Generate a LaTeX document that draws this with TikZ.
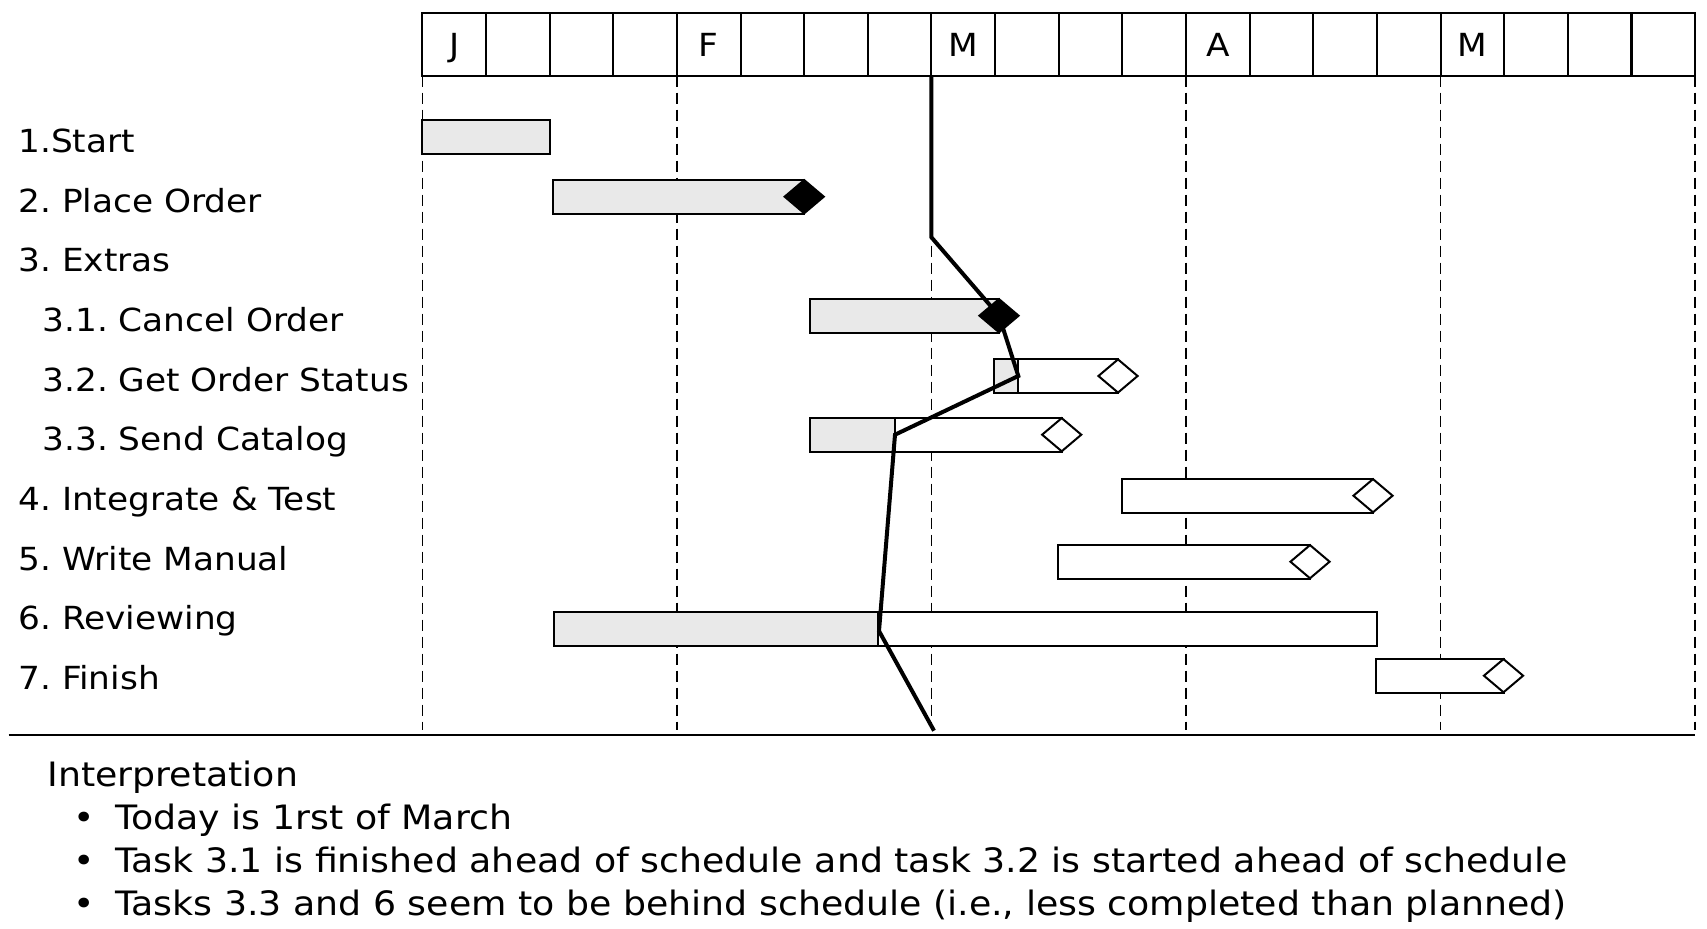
\documentclass[tikz,border=0pt]{standalone}
\usepackage{fontspec}
\setmainfont{DejaVu Sans}[FakeStretch=1.08]
\usetikzlibrary{shapes.geometric}
\definecolor{bargrey}{HTML}{E9E9E9}
\frenchspacing

\begin{document}
\begin{tikzpicture}[x=0.5pt,y=-0.5pt,
	task/.style={anchor=base west,inner sep=0pt,font=\fontsize{15.9}{19}\selectfont},
	note/.style={anchor=base west,inner sep=0pt,font=\fontsize{16.8}{20}\selectfont},
	month/.style={anchor=base,inner sep=0pt,font=\fontsize{15.9}{19}\selectfont},
	plan/.style={draw,line width=1pt,fill=white},
	done/.style={draw,line width=1pt,fill=bargrey},
	mile/.style={diamond,draw,line width=1pt,fill=white,inner sep=0pt,minimum width=20pt,minimum height=17pt},
	reached/.style={mile,fill=black},
	monthline/.style={line width=0.9pt,dash pattern=on 5.5pt off 3pt},
	today/.style={line width=2pt}]

	\useasboundingbox (0,0) rectangle (1707,929);

	% header with the weeks
	\draw[line width=1pt] (422.4,12.7) rectangle (1695,75.7);
	\foreach \c in {1,...,18}
		\draw[line width=1pt] (422.4+63.63*\c,12.7) -- (422.4+63.63*\c,75.7);
	\draw[line width=1.8pt] (1631.4,12.7) -- (1631.4,75.7);

	\node[month] (mJ) at (454.2,56.5) {J};
	\node[month] (mF) at (708.7,56.5) {F};
	\node[month] (mM) at (963.2,56.5) {M};
	\node[month] (mA) at (1217.8,56.5) {A};
	\node[month] (mY) at (1472.3,56.5) {M};

	\foreach \c in {0,4,...,20}
		\draw[monthline] (422.4+63.63*\c,75.7) -- (422.4+63.63*\c,730);
	\draw[line width=1pt] (8.7,735) -- (1695,735);

	% tasks
	\node[task] (t1) at (18,152.4) {1.Start};
	\node[task] (t2) at (18,212.1) {2. Place Order};
	\node[task] (t3) at (18,271.8) {3. Extras};
	\node[task] (t31) at (42,331.5) {3.1. Cancel Order};
	\node[task] (t32) at (42,391.2) {3.2. Get Order Status};
	\node[task] (t33) at (42,450.9) {3.3. Send Catalog};
	\node[task] (t4) at (18,510.6) {4. Integrate \& Test};
	\node[task] (t5) at (18,570.3) {5. Write Manual};
	\node[task] (t6) at (18,630) {6. Reviewing};
	\node[task] (t7) at (18,689.7) {7. Finish};

	% bars
	\draw[done] (422.4,120) rectangle (549.7,154);
	\draw[done] (553,179.7) rectangle (804.2,213.7);
	\node[reached] (d2) at (804.2,196.7) {};
	\draw[done] (810.3,298.7) rectangle (999,332.7);
	\node[reached] (d31) at (999,315.7) {};
	\draw[plan] (994.3,359) rectangle (1118,393);
	\draw[done] (994.3,359) rectangle (1018.3,393);
	\node[mile] (d32) at (1118,376) {};
	\draw[plan] (810.3,417.7) rectangle (1061.7,451.7);
	\draw[done] (810.3,417.7) rectangle (895,451.7);
	\node[mile] (d33) at (1061.7,434.7) {};
	\draw[plan] (1121.7,478.7) rectangle (1373,512.7);
	\node[mile] (d4) at (1373,495.7) {};
	\draw[plan] (1058.3,544.7) rectangle (1310,578.7);
	\node[mile] (d5) at (1310,561.7) {};
	\draw[plan] (554,612.3) rectangle (1376.6,646.3);
	\draw[done] (554,612.3) rectangle (878.3,646.3);
	\draw[plan] (1376.3,658.7) rectangle (1503.5,692.7);
	\node[mile] (d7) at (1503.5,675.7) {};

	% today line
	\coordinate (now) at (931.4,75.7);
	\coordinate (bend) at (931.4,237.3);
	\coordinate (g32) at (1018.3,376);
	\coordinate (g33) at (895,434.7);
	\coordinate (g6) at (879,631);
	\coordinate (nowend) at (934,730.7);
	\draw[today] (now) -- (bend) -- (d31.center) -- (g32) -- (g33) -- (g6) -- (nowend);

	% interpretation
	\node[note] (int) at (47,786) {Interpretation};
	\node[note,anchor=base] (b1) at (84,829.2) {•};
	\node[note] (i1) at (115,829.2) {Today is 1rst of March};
	\node[note,anchor=base] (b2) at (84,872.4) {•};
	\node[note] (i2) at (115,872.4) {Task 3.1 is finished ahead of schedule and task 3.2 is started ahead of schedule};
	\node[note,anchor=base] (b3) at (84,915.6) {•};
	\node[note] (i3) at (115,915.6) {Tasks 3.3 and 6 seem to be behind schedule (i.e., less completed than planned)};

\end{tikzpicture}
\end{document}
